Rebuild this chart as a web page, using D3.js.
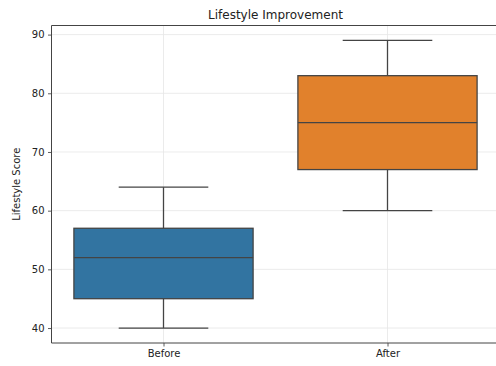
<!DOCTYPE html>
<html><head><meta charset="utf-8">
<script src="https://cdn.jsdelivr.net/npm/d3@7"></script>
<style>html,body{margin:0;background:#fff;overflow:hidden}svg{display:block}text{font-family:"DejaVu Sans",sans-serif}</style>
</head><body>
<svg id="c" width="496" height="366"></svg>
<script>
const categories = ["Before", "After"];
const mins = [40, 60];
const q1s = [45, 67];
const medians = [52, 75];
const q3s = [57, 83];
const maxs = [64, 89];
const colors = ["#3274a1", "#e1812c"];
const yTicks = [40, 50, 60, 70, 80, 90];

const svg = d3.select("#c");
const L = 51.5, T = 25.5, R = 499.5, B = 343;
const x = d3.scaleLinear().domain([-0.5, 1.5]).range([L, R]);
const y = d3.scaleLinear().domain([37.45, 91.55]).range([B, T]);

// grid
const g = svg.append("g");
g.selectAll(".hg").data(yTicks).join("line")
  .attr("x1", L).attr("x2", R).attr("y1", d => y(d)).attr("y2", d => y(d))
  .attr("stroke", "#e6e6e6").attr("stroke-width", 0.8);
g.selectAll(".vg").data(categories).join("line")
  .attr("x1", (d, i) => x(i)).attr("x2", (d, i) => x(i)).attr("y1", T).attr("y2", B)
  .attr("stroke", "#e6e6e6").attr("stroke-width", 0.8);

const lc = "#444";
const bw = 0.8, cw = 0.4;
categories.forEach((c, i) => {
  const bx = svg.append("g");
  bx.append("line").attr("x1", x(i)).attr("x2", x(i)).attr("y1", y(mins[i])).attr("y2", y(q1s[i])).attr("stroke", lc).attr("stroke-width", 1.3);
  bx.append("line").attr("x1", x(i)).attr("x2", x(i)).attr("y1", y(q3s[i])).attr("y2", y(maxs[i])).attr("stroke", lc).attr("stroke-width", 1.3);
  bx.append("line").attr("x1", x(i - cw / 2)).attr("x2", x(i + cw / 2)).attr("y1", y(mins[i])).attr("y2", y(mins[i])).attr("stroke", lc).attr("stroke-width", 1.3);
  bx.append("line").attr("x1", x(i - cw / 2)).attr("x2", x(i + cw / 2)).attr("y1", y(maxs[i])).attr("y2", y(maxs[i])).attr("stroke", lc).attr("stroke-width", 1.3);
  bx.append("rect").attr("x", x(i - bw / 2)).attr("width", x(i + bw / 2) - x(i - bw / 2))
    .attr("y", y(q3s[i])).attr("height", y(q1s[i]) - y(q3s[i]))
    .attr("fill", colors[i]).attr("stroke", lc).attr("stroke-width", 1.3);
  bx.append("line").attr("x1", x(i - bw / 2)).attr("x2", x(i + bw / 2)).attr("y1", y(medians[i])).attr("y2", y(medians[i])).attr("stroke", lc).attr("stroke-width", 1.3);
});

// axes
const ya = svg.append("g").attr("transform", `translate(${L},0)`)
  .call(d3.axisLeft(y).tickValues(yTicks).tickSize(3.5).tickPadding(3.5));
const xa = svg.append("g").attr("transform", `translate(0,${B})`)
  .call(d3.axisBottom(x).tickValues([0, 1]).tickFormat(i => categories[i]).tickSize(3.5).tickPadding(3.5));
[ya, xa].forEach(a => {
  a.selectAll("text").attr("font-size", 10).attr("fill", "#222").attr("font-family", "DejaVu Sans");
  a.selectAll("line").attr("stroke", "#333").attr("stroke-width", 0.8);
  a.select(".domain").remove();
});
const sp = svg.append("g").attr("stroke", "#444").attr("stroke-width", 1);
sp.append("line").attr("x1", L).attr("x2", L).attr("y1", T).attr("y2", B);
sp.append("line").attr("x1", L).attr("x2", 496).attr("y1", T).attr("y2", T);
sp.append("line").attr("x1", L).attr("x2", 496).attr("y1", B).attr("y2", B);

svg.append("text").attr("x", (L + R) / 2).attr("y", 19).attr("text-anchor", "middle")
  .attr("font-size", 12).attr("fill", "#222").text("Lifestyle Improvement");
svg.append("text").attr("transform", `translate(20,${(T + B) / 2}) rotate(-90)`)
  .attr("text-anchor", "middle").attr("font-size", 10).attr("fill", "#222").text("Lifestyle Score");
</script>
</body></html>
